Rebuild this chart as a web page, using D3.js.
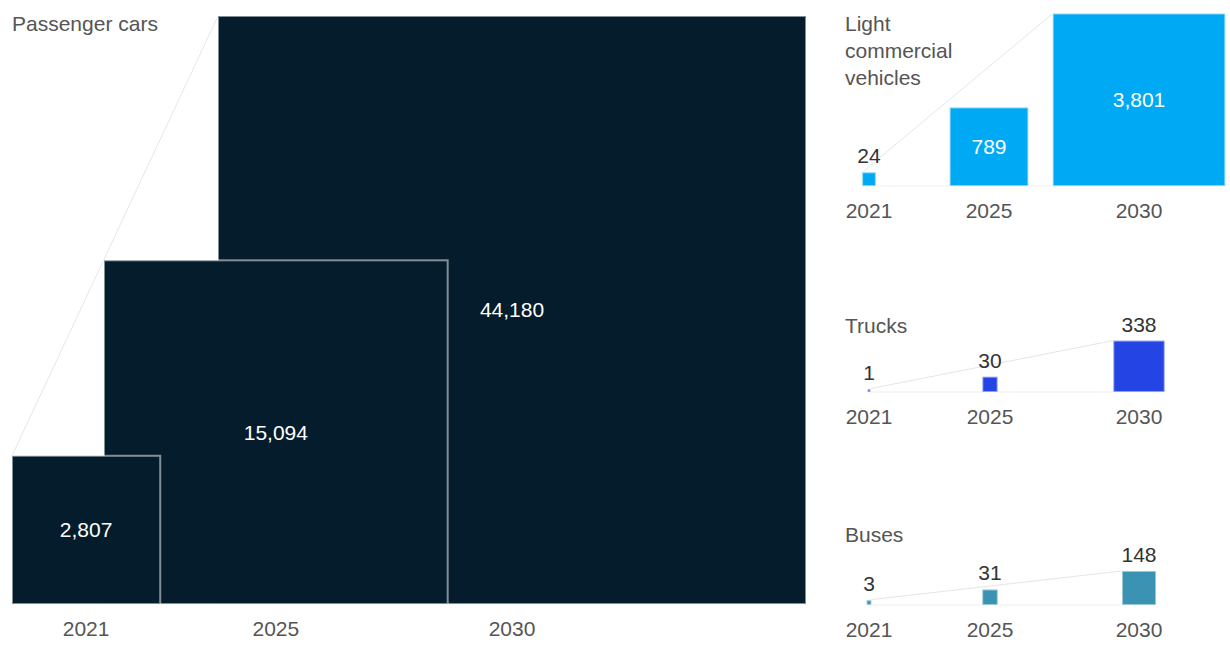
<!DOCTYPE html>
<html>
<head>
<meta charset="utf-8">
<script src="https://cdn.jsdelivr.net/npm/d3@7"></script>
<style>
  body { margin: 0; background: #fff; }
  text { font-family: "Liberation Sans", Arial, sans-serif; }
</style>
</head>
<body>
<div id="container"></div>
<script>
// data
var years = ["2021", "2025", "2030"];
var passengerCars = [2807, 15094, 44180];
var lightCommercial = [24, 789, 3801];
var trucks = [1, 30, 338];
var buses = [3, 31, 148];

var w = 1230, h = 649;

var svg = d3.select("#container").append("svg")
  .attr("width", w).attr("height", h);

// side of square ~ sqrt(value), one scale for all panels
var side = d3.scaleSqrt().domain([0, 44180]).range([0, 588]);
var fmt = d3.format(",");

var panels = [
  { title: ["Passenger cars"], values: passengerCars, color: "#051c2c",
    base: 604, titleX: 12, titleY: 31, align: "left",
    x: d3.scaleOrdinal().domain(years).range([12, 104, 218]) },
  { title: ["Light", "commercial", "vehicles"], values: lightCommercial, color: "#00a9f4",
    base: 186, titleX: 845, titleY: 31, align: "center",
    x: d3.scaleOrdinal().domain(years).range([869, 989, 1139]) },
  { title: ["Trucks"], values: trucks, color: "#2445e4",
    base: 392, titleX: 845, titleY: 333, align: "center",
    x: d3.scaleOrdinal().domain(years).range([869, 990, 1139]) },
  { title: ["Buses"], values: buses, color: "#3a93b2",
    base: 605, titleX: 845, titleY: 542, align: "center",
    x: d3.scaleOrdinal().domain(years).range([869, 990, 1139]) }
];

panels.forEach(function(p) {
  var g = svg.append("g");

  var rows = years.map(function(y, i) {
    var s = side(p.values[i]);
    var left = p.align == "left" ? p.x(y) : p.x(y) - s / 2;
    return { year: y, value: p.values[i], s: s, left: left, top: p.base - s, cx: left + s / 2 };
  });
  var first = rows[0], last = rows[rows.length - 1];

  // faint baseline + connector through the top-left corners
  g.append("line")
    .attr("x1", first.left).attr("x2", last.left + last.s)
    .attr("y1", p.base).attr("y2", p.base)
    .attr("stroke", "#eeeeee");
  g.append("line")
    .attr("x1", first.left).attr("y1", first.top)
    .attr("x2", last.left).attr("y2", last.top)
    .attr("stroke", "#e6e6e6");

  // biggest square at the back
  g.selectAll(".sq")
    .data(rows.slice().reverse())
    .enter().append("rect")
    .attr("class", "sq")
    .attr("x", function(d) { return d.left; })
    .attr("y", function(d) { return d.top; })
    .attr("width", function(d) { return d.s; })
    .attr("height", function(d) { return d.s; })
    .attr("fill", p.color)
    .attr("stroke", "#ffffff")
    .attr("stroke-opacity", 0.5)
    .attr("stroke-width", 2);

  // values, inside when the square is big enough
  g.selectAll(".val")
    .data(rows)
    .enter().append("text")
    .attr("class", "val")
    .attr("x", function(d) { return d.cx; })
    .attr("y", function(d) { return d.s > 60 ? d.top + d.s / 2 : d.top - 9; })
    .attr("dy", function(d) { return d.s > 60 ? "0.35em" : 0; })
    .attr("text-anchor", "middle")
    .attr("font-size", 21)
    .attr("fill", function(d) { return d.s > 60 ? "#ffffff" : "#333333"; })
    .text(function(d) { return fmt(d.value); });

  // years
  g.selectAll(".yr")
    .data(rows)
    .enter().append("text")
    .attr("class", "yr")
    .attr("x", function(d) { return d.cx; })
    .attr("y", p.base + 32)
    .attr("text-anchor", "middle")
    .attr("font-size", 21)
    .attr("fill", "#555555")
    .text(function(d) { return d.year; });

  // title
  g.selectAll(".ttl")
    .data(p.title)
    .enter().append("text")
    .attr("class", "ttl")
    .attr("x", p.titleX)
    .attr("y", function(d, i) { return p.titleY + i * 27; })
    .attr("font-size", 21)
    .attr("fill", "#555555")
    .text(function(d) { return d; });
});
</script>
</body>
</html>
